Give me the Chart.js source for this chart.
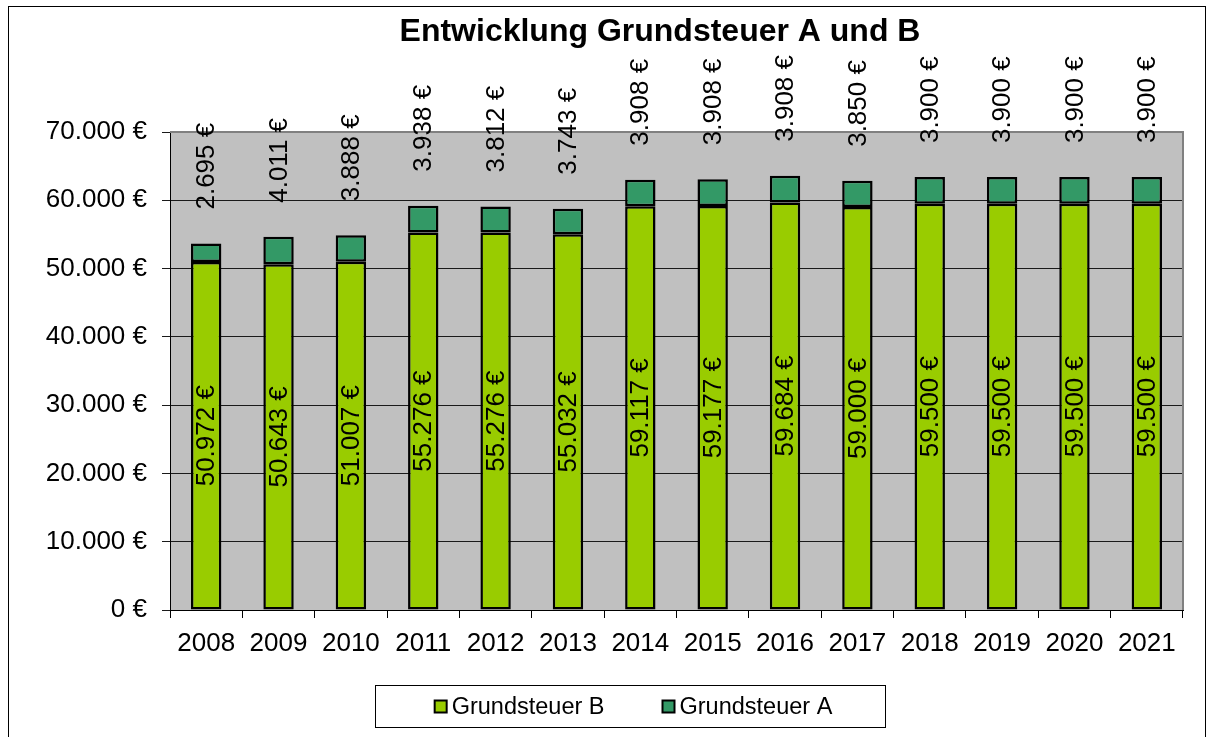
<!DOCTYPE html>
<html>
<head>
<meta charset="utf-8">
<script src="https://cdn.jsdelivr.net/npm/chart.js@4/dist/chart.umd.min.js"></script>
<style>
  body { margin: 0; background: #fff; }
  #wrap { width: 1207px; height: 737px; }
</style>
</head>
<body>
<div id="wrap"><canvas id="grafik" width="1207" height="737"></canvas></div>
<script>
// Daten
const jahre = ["2008", "2009", "2010", "2011", "2012", "2013", "2014", "2015", "2016", "2017", "2018", "2019", "2020", "2021"];
const grundsteuerB = [50972, 50643, 51007, 55276, 55276, 55032, 59117, 59177, 59684, 59000, 59500, 59500, 59500, 59500];
const grundsteuerA = [2695, 4011, 3888, 3938, 3812, 3743, 3908, 3908, 3908, 3850, 3900, 3900, 3900, 3900];
const titel = "Entwicklung Grundsteuer A und B";

const schrift = "'Liberation Sans', Arial, sans-serif";

// 12345 -> "12.345 €"
function euro(v) {
  return String(Math.round(v)).replace(/\B(?=(\d{3})+(?!\d))/g, ".") + " €";
}

// Hintergrund der Zeichenfläche + Rahmen + Titel
const flaeche = {
  id: "flaeche",
  beforeDraw(chart) {
    const { ctx, chartArea: a } = chart;
    ctx.save();
    ctx.fillStyle = "#C0C0C0";
    ctx.fillRect(a.left, a.top, a.right - a.left, a.bottom - a.top);
    ctx.restore();
  },
  afterDraw(chart) {
    const { ctx, chartArea: a } = chart;
    ctx.save();
    ctx.strokeStyle = "#808080";
    ctx.lineWidth = 2;
    ctx.beginPath();
    ctx.moveTo(a.left, a.top);
    ctx.lineTo(a.right, a.top);
    ctx.lineTo(a.right, a.bottom);
    ctx.stroke();
    // äußerer Rahmen
    ctx.strokeStyle = "#000";
    ctx.lineWidth = 1;
    ctx.strokeRect(8.5, 6.5, 1197, 800);
    // Titel
    ctx.fillStyle = "#000";
    ctx.font = "bold 32px " + schrift;
    ctx.textAlign = "center";
    ctx.textBaseline = "alphabetic";
    ctx.fillText(titel, 660, 41);
    ctx.restore();
  }
};

// Beschriftung der Balken (gedreht)
const werte = {
  id: "werte",
  afterDraw(chart) {
    const { ctx } = chart;
    ctx.save();
    ctx.font = "26px " + schrift;
    ctx.fillStyle = "#000";
    ctx.textBaseline = "middle";
    chart.data.datasets.forEach((ds, i) => {
      const meta = chart.getDatasetMeta(i);
      meta.data.forEach((bar, j) => {
        ctx.save();
        if (i === 0) {
          ctx.translate(bar.x, (bar.y + bar.base) / 2);
          ctx.textAlign = "center";
        } else {
          ctx.translate(bar.x, bar.y - 34);
          ctx.textAlign = "left";
        }
        ctx.rotate(-Math.PI / 2);
        ctx.fillText(euro(ds.data[j]), 0, 1);
        ctx.restore();
      });
    });
    ctx.restore();
  }
};

// Legende mit Rahmen
const legende = {
  id: "legende",
  afterDraw(chart) {
    const { ctx } = chart;
    const box = { x: 375.5, y: 685.5, w: 510, h: 42 };
    ctx.save();
    ctx.strokeStyle = "#000";
    ctx.lineWidth = 1;
    ctx.fillStyle = "#fff";
    ctx.fillRect(box.x, box.y, box.w, box.h);
    ctx.strokeRect(box.x, box.y, box.w, box.h);
    ctx.font = "23.5px " + schrift;
    ctx.textBaseline = "middle";
    const marker = 12, abstand = 5, luecke = 58;
    const items = chart.data.datasets.map(ds => ({ text: ds.label, farbe: ds.backgroundColor, w: ctx.measureText(ds.label).width }));
    let gesamt = items.reduce((s, it) => s + marker + abstand + it.w, 0) + luecke * (items.length - 1);
    let x = box.x + (box.w - gesamt) / 2 + 3;
    const cy = box.y + box.h / 2;
    items.forEach(it => {
      ctx.fillStyle = it.farbe;
      ctx.fillRect(x, cy - marker / 2, marker, marker);
      ctx.lineWidth = 2;
      ctx.strokeStyle = "#000";
      ctx.strokeRect(x, cy - marker / 2, marker, marker);
      ctx.fillStyle = "#000";
      ctx.textAlign = "left";
      ctx.fillText(it.text, x + marker + abstand, cy + 1);
      x += marker + abstand + it.w + luecke;
    });
    ctx.restore();
  }
};

new Chart(document.getElementById("grafik").getContext("2d"), {
  type: "bar",
  data: {
    labels: jahre,
    datasets: [
      {
        label: "Grundsteuer B",
        data: grundsteuerB,
        backgroundColor: "#99CC00",
        borderColor: "#000",
        borderWidth: 2.5,
        borderSkipped: false,
        categoryPercentage: 1,
        barPercentage: 0.42
      },
      {
        label: "Grundsteuer A",
        data: grundsteuerA,
        backgroundColor: "#339966",
        borderColor: "#000",
        borderWidth: 2.5,
        borderSkipped: false,
        categoryPercentage: 1,
        barPercentage: 0.42
      }
    ]
  },
  options: {
    responsive: false,
    animation: false,
    layout: { padding: { left: 0, right: 24, top: 132, bottom: 0 } },
    plugins: {
      legend: { display: false },
      tooltip: { enabled: false },
      title: { display: false }
    },
    scales: {
      x: {
        stacked: true,
        offset: true,
        grid: {
          offset: true,
          drawOnChartArea: false,
          drawTicks: true,
          tickLength: 8,
          color: "#000",
          tickWidth: 1
        },
        border: { display: true, color: "#000", width: 1 },
        ticks: { color: "#000", font: { family: schrift, size: 26 }, padding: 10, maxRotation: 0 },
        afterFit(scale) { scale.height = 127; }
      },
      y: {
        stacked: true,
        min: 0,
        max: 70000,
        grid: {
          color: "#1a1a1a",
          lineWidth: 1,
          tickLength: 8
        },
        border: { display: true, color: "#000", width: 1 },
        ticks: {
          stepSize: 10000,
          color: "#000",
          font: { family: schrift, size: 26 },
          padding: 15,
          callback: v => euro(v)
        },
        afterFit(scale) { scale.width = 170; }
      }
    }
  },
  plugins: [flaeche, werte, legende]
});
</script>
</body>
</html>
